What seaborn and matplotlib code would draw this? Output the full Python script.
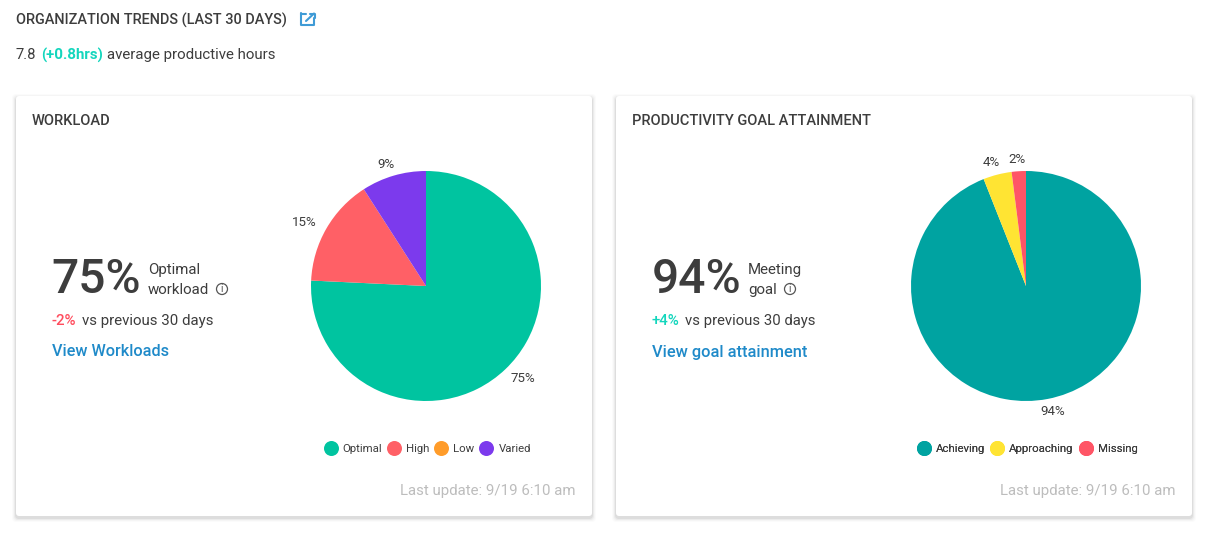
import matplotlib
matplotlib.use("Agg")
import matplotlib.pyplot as plt
from matplotlib.lines import Line2D
from matplotlib.patches import FancyBboxPatch, Circle
import seaborn as sns

# data
workload_labels = ["Optimal", "High", "Low", "Varied"]
workload_values = [75, 15, 0, 9]
workload_colors = ["#00c4a0", "#ff6066", "#ff9c2a", "#7c3aed"]

goal_labels = ["Achieving", "Approaching", "Missing"]
goal_values = [94, 4, 2]
goal_colors = ["#00a3a1", "#ffe433", "#ff5566"]

sns.set_theme(style="white")
plt.rcParams["font.family"] = ["Roboto", "DejaVu Sans"]

DARK = "#3d3d3d"
TEAL = "#14d6bd"
RED = "#ff4d5e"
BLUE = "#1f8ac9"
GREY = "#bdbdbd"

fig = plt.figure(figsize=(12.15, 5.35), dpi=100, facecolor="white")

# whole figure axes in pixels, for the cards and the text
bg = fig.add_axes([0, 0, 1, 1], zorder=0)
bg.set_xlim(0, 1215)
bg.set_ylim(535, 0)
bg.axis("off")


def card(x0, x1):
    y0, y1 = 96, 516
    # soft shadow
    for grow, alpha in [(4, 0.015), (3, 0.025), (2, 0.04), (1, 0.06)]:
        bg.add_patch(FancyBboxPatch((x0 - grow, y0 - grow + 2), x1 - x0 + 2 * grow,
                                    y1 - y0 + 2 * grow,
                                    boxstyle="round,pad=0,rounding_size=4",
                                    fc="black", ec="none", alpha=alpha))
    bg.add_patch(FancyBboxPatch((x0, y0), x1 - x0, y1 - y0,
                                boxstyle="round,pad=0,rounding_size=3",
                                fc="white", ec="none"))


def txt(x, y, s, size=10.7, color=DARK, **kw):
    kw.setdefault("va", "center")
    bg.text(x, y, s, fontsize=size, color=color, **kw)


def info_icon(x, y):
    bg.add_patch(Circle((x, y), 5.5, fc="none", ec="#555555", lw=0.9))
    bg.text(x, y + 0.3, "i", fontsize=7.5, color="#555555", ha="center", va="center")


def pie_panel(cx, cy, r, values, colors, names, legend_x):
    ax = fig.add_axes([(cx - r) / 1215, 1 - (cy + r) / 535, 2 * r / 1215, 2 * r / 535], zorder=2)
    labels = [f"{v}%" if v > 0 else "" for v in values]
    wedges, texts = ax.pie(values, colors=colors, labels=labels, startangle=90,
                           counterclock=False, radius=1.0, labeldistance=1.0,
                           normalize=True, wedgeprops={"linewidth": 0},
                           textprops={"fontsize": 9.6, "color": DARK})
    for t in texts:
        px, py = t.get_position()
        t.set_position((px * 1.22, py * 1.11 - 0.005))
        t.set_ha("center")
        t.set_va("center")
    ax.set_xlim(-1, 1)
    ax.set_ylim(-1, 1)
    handles = [Line2D([], [], marker="o", ls="", ms=10.8, mfc=c, mec="none", label=n)
               for c, n in zip(colors, names)]
    leg = bg.legend(handles=handles, ncol=len(names), frameon=False, fontsize=8.2,
                    labelcolor=DARK, loc="center", bbox_to_anchor=(legend_x / 1215, 1 - 449 / 535),
                    bbox_transform=fig.transFigure, handlelength=1.5, handletextpad=0.3,
                    columnspacing=0.3, borderpad=0)
    bg.add_artist(leg)


card(16, 592)
card(616, 1192)

# page header
txt(16, 20, "ORGANIZATION TRENDS (LAST 30 DAYS)", size=10.45, weight="medium")
# external link icon
bg.plot([301, 301, 314, 314], [13, 25, 25, 18], color="#3f9bd6", lw=1.5)
bg.plot([301, 306], [13.5, 13.5], color="#3f9bd6", lw=1.5)
bg.plot([306, 314], [21, 13.5], color="#3f9bd6", lw=1.5)
bg.plot([309.5, 314.5, 314.5], [13.5, 13.5, 18], color="#3f9bd6", lw=1.5)

txt(16, 55, "7.8", size=10.6)
txt(41, 55, "(+0.8hrs)", size=10.8, color=TEAL, weight="bold")
txt(107, 55, "average productive hours", size=10.8)

# workload card
txt(32, 121, "WORKLOAD", size=10.5, weight="medium")
txt(51, 280, "75%", size=34.5, ha="left", weight="medium")
txt(148, 270, "Optimal", size=10.8)
txt(148, 290, "workload", size=10.8)
info_icon(222, 289)
txt(52, 321, "-2%", size=10.8, color=RED, weight="medium")
txt(82, 321, "vs previous 30 days", size=10.8)
txt(52, 351, "View Workloads", size=11.7, color=BLUE, weight="medium")
txt(576, 491, "Last update: 9/19 6:10 am", size=10.8, color=GREY, ha="right")

# goal card
txt(632, 121, "PRODUCTIVITY GOAL ATTAINMENT", size=10.5, weight="medium")
txt(652, 280, "94%", size=34.5, ha="left", weight="medium")
txt(748, 270, "Meeting", size=10.8)
txt(748, 290, "goal", size=10.8)
info_icon(790, 289)
txt(652, 321, "+4%", size=10.8, color=TEAL, weight="medium")
txt(685, 321, "vs previous 30 days", size=10.7)
txt(652, 352, "View goal attainment", size=11.8, color=BLUE, weight="medium")
txt(1176, 491, "Last update: 9/19 6:10 am", size=10.8, color=GREY, ha="right")

pie_panel(426, 286, 115, workload_values, workload_colors, workload_labels, 426.5)
pie_panel(1026, 286, 115, goal_values, goal_colors, goal_labels, 1026.5)

bg.set_xlim(0, 1215)
bg.set_ylim(535, 0)

fig.savefig("out.png", dpi=100)
